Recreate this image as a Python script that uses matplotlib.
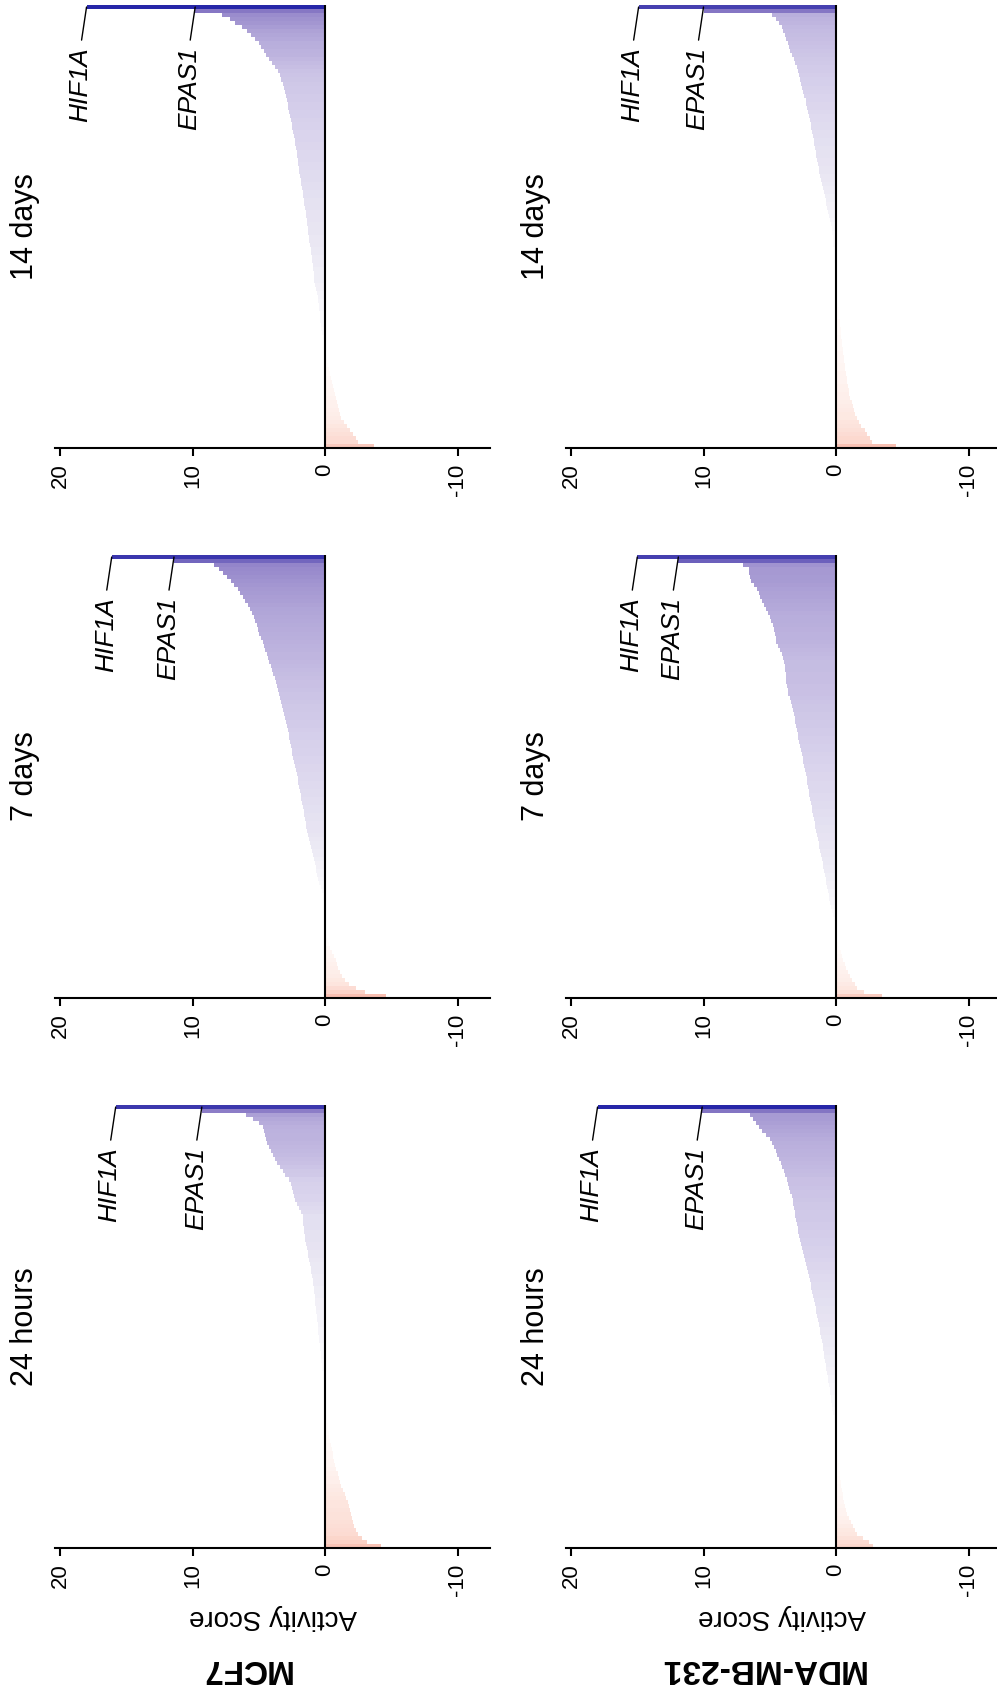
import numpy as np
import matplotlib
matplotlib.use("Agg")
import matplotlib.pyplot as plt
from matplotlib.colors import LinearSegmentedColormap, Normalize

plt.rcParams['font.family'] = ['Liberation Sans', 'DejaVu Sans']

## data : activity scores sorted (top bar = highest), first two bars are HIF1A and EPAS1
cell_lines = ['MCF7', 'MDA-MB-231']
timepoints = ['24 hours', '7 days', '14 days']
marked_genes = ['HIF1A', 'EPAS1']

mcf7_24h = [15.8, 9.3, 6.0, 5.4, 5.0, 4.7, 4.6, 4.5, 4.45, 4.4,
            4.25, 4.1, 3.95, 3.8, 3.6, 3.4, 3.2, 3.0, 2.75, 2.6,
            2.5, 2.45, 2.35, 2.3, 2.15, 2.0, 1.85, 1.7, 1.67, 1.63,
            1.6, 1.55, 1.52, 1.5, 1.45, 1.38, 1.3, 1.25, 1.18, 1.12,
            1.08, 1.03, 0.98, 0.94, 0.9, 0.86, 0.82, 0.78, 0.75, 0.72,
            0.68, 0.65, 0.62, 0.59, 0.55, 0.52, 0.5, 0.46, 0.43, 0.4,
            0.37, 0.34, 0.31, 0.28, 0.25, 0.22, 0.18, 0.14, 0.1, 0.08,
            0.05, 0.03, 0.01, -0.01, -0.03, -0.06, -0.09, -0.12, -0.16, -0.2,
            -0.24, -0.27, -0.32, -0.38, -0.44, -0.5, -0.57, -0.6, -0.66, -0.75,
            -0.85, -0.95, -1.03, -1.1, -1.22, -1.35, -1.48, -1.6, -1.7, -1.78,
            -1.86, -1.94, -2.02, -2.1, -2.22, -2.35, -2.5, -2.8, -3.2, -4.2]

mcf7_7d = [16.1, 11.4, 8.4, 8.0, 7.7, 7.4, 7.1, 6.85, 6.6, 6.4,
           6.2, 6.05, 5.85, 5.65, 5.5, 5.35, 5.25, 5.15, 5.05, 4.95,
           4.8, 4.7, 4.6, 4.5, 4.4, 4.3, 4.2, 4.1, 4.0, 3.9,
           3.8, 3.7, 3.6, 3.52, 3.45, 3.37, 3.3, 3.23, 3.16, 3.1,
           3.03, 2.96, 2.89, 2.82, 2.75, 2.7, 2.64, 2.58, 2.52, 2.46,
           2.4, 2.34, 2.28, 2.2, 2.13, 2.07, 2.01, 1.96, 1.91, 1.85,
           1.8, 1.75, 1.68, 1.62, 1.56, 1.51, 1.46, 1.42, 1.36, 1.28,
           1.2, 1.12, 1.04, 0.97, 0.9, 0.82, 0.76, 0.7, 0.65, 0.6,
           0.52, 0.42, 0.32, 0.24, 0.18, 0.15, 0.11, 0.08, 0.05, 0.03,
           0.01, -0.01, -0.04, -0.08, -0.14, -0.2, -0.28, -0.4, -0.55, -0.7,
           -0.8, -0.92, -1.0, -1.15, -1.3, -1.5, -1.8, -2.3, -3.0, -4.6]

mcf7_14d = [18.0, 9.8, 7.8, 7.2, 6.8, 6.3, 5.9, 5.55, 5.25, 4.95,
            4.8, 4.6, 4.45, 4.25, 4.0, 3.75, 3.55, 3.42, 3.3, 3.2,
            3.1, 3.02, 2.95, 2.89, 2.83, 2.77, 2.71, 2.65, 2.59, 2.53,
            2.46, 2.4, 2.35, 2.3, 2.25, 2.2, 2.15, 2.11, 2.07, 2.02,
            1.98, 1.93, 1.88, 1.83, 1.78, 1.73, 1.68, 1.63, 1.59, 1.55,
            1.51, 1.47, 1.43, 1.39, 1.35, 1.31, 1.28, 1.23, 1.18, 1.13,
            1.08, 1.04, 1.0, 0.96, 0.92, 0.89, 0.87, 0.85, 0.8, 0.73,
            0.66, 0.6, 0.56, 0.52, 0.48, 0.44, 0.41, 0.38, 0.36, 0.34,
            0.28, 0.22, 0.16, 0.1, 0.04, -0.01, -0.06, -0.12, -0.18, -0.26,
            -0.33, -0.39, -0.45, -0.52, -0.6, -0.66, -0.72, -0.8, -0.88, -0.96,
            -1.05, -1.13, -1.22, -1.4, -1.65, -1.9, -2.1, -2.3, -2.5, -3.7]

mda_24h = [18.0, 10.1, 6.5, 6.3, 6.05, 5.8, 5.55, 5.3, 5.0, 4.85,
           4.7, 4.55, 4.42, 4.3, 4.18, 4.07, 3.95, 3.83, 3.7, 3.62,
           3.54, 3.46, 3.36, 3.28, 3.22, 3.16, 3.11, 3.06, 3.0, 2.95,
           2.9, 2.85, 2.8, 2.75, 2.68, 2.6, 2.52, 2.44, 2.36, 2.28,
           2.2, 2.12, 2.04, 1.98, 1.92, 1.86, 1.8, 1.74, 1.68, 1.6,
           1.54, 1.48, 1.42, 1.36, 1.3, 1.24, 1.18, 1.12, 1.07, 1.02,
           0.98, 0.93, 0.88, 0.83, 0.78, 0.73, 0.68, 0.63, 0.58, 0.53,
           0.49, 0.45, 0.41, 0.37, 0.32, 0.27, 0.22, 0.17, 0.13, 0.09,
           0.06, 0.04, 0.01, -0.02, -0.05, -0.08, -0.11, -0.14, -0.17, -0.2,
           -0.24, -0.28, -0.32, -0.36, -0.41, -0.46, -0.5, -0.55, -0.62, -0.7,
           -0.78, -0.86, -0.96, -1.1, -1.28, -1.46, -1.6, -2.0, -2.5, -2.8]

mda_7d = [15.0, 11.9, 7.0, 6.6, 6.55, 6.5, 6.45, 6.2, 6.0, 5.85,
          5.7, 5.55, 5.4, 5.25, 5.1, 4.98, 4.88, 4.78, 4.7, 4.62,
          4.55, 4.5, 4.4, 4.25, 4.1, 3.98, 3.9, 3.85, 3.83, 3.81,
          3.79, 3.75, 3.7, 3.65, 3.6, 3.5, 3.4, 3.32, 3.25, 3.18,
          3.12, 3.06, 3.0, 2.95, 2.9, 2.85, 2.78, 2.72, 2.65, 2.59,
          2.52, 2.46, 2.4, 2.34, 2.28, 2.22, 2.17, 2.12, 2.07, 2.02,
          1.96, 1.9, 1.84, 1.78, 1.72, 1.67, 1.62, 1.56, 1.5, 1.44,
          1.38, 1.32, 1.26, 1.2, 1.14, 1.08, 1.02, 0.96, 0.9, 0.84,
          0.78, 0.72, 0.66, 0.6, 0.55, 0.5, 0.44, 0.38, 0.3, 0.22,
          0.15, 0.1, 0.05, 0.01, -0.04, -0.1, -0.18, -0.26, -0.35, -0.45,
          -0.55, -0.65, -0.78, -0.9, -1.05, -1.2, -1.4, -1.6, -2.1, -3.5]

mda_14d = [14.9, 10.0, 4.8, 4.5, 4.3, 4.1, 3.98, 3.85, 3.75, 3.65,
           3.55, 3.45, 3.32, 3.2, 3.08, 2.98, 2.9, 2.82, 2.73, 2.65,
           2.57, 2.48, 2.38, 2.3, 2.24, 2.18, 2.12, 2.05, 1.98, 1.92,
           1.86, 1.8, 1.74, 1.69, 1.64, 1.59, 1.54, 1.49, 1.44, 1.38,
           1.32, 1.26, 1.2, 1.13, 1.06, 0.99, 0.92, 0.85, 0.78, 0.72,
           0.66, 0.6, 0.54, 0.47, 0.4, 0.34, 0.29, 0.26, 0.23, 0.2,
           0.18, 0.16, 0.14, 0.12, 0.1, 0.09, 0.08, 0.07, 0.06, 0.05,
           0.03, 0.01, -0.03, -0.08, -0.15, -0.2, -0.23, -0.26, -0.29, -0.32,
           -0.35, -0.38, -0.41, -0.44, -0.47, -0.5, -0.54, -0.58, -0.62, -0.66,
           -0.71, -0.76, -0.81, -0.86, -0.91, -0.96, -1.0, -1.08, -1.18, -1.28,
           -1.38, -1.46, -1.55, -1.7, -1.9, -2.15, -2.35, -2.55, -2.7, -4.5]

scores = {('MCF7', '24 hours'): mcf7_24h, ('MCF7', '7 days'): mcf7_7d, ('MCF7', '14 days'): mcf7_14d,
          ('MDA-MB-231', '24 hours'): mda_24h, ('MDA-MB-231', '7 days'): mda_7d, ('MDA-MB-231', '14 days'): mda_14d}

## colour scale : red (neg) -> white (0) -> lavender/purple -> blue (high)
vmin, vmax = -12, 18
stops = [(-12, '#e65a46'), (-5, '#f7b9aa'), (-3, '#fbd3c8'), (-1.5, '#fde9e3'), (0, '#ffffff'),
         (1, '#eceaf4'), (2.5, '#d8d2ec'), (4.5, '#bdb3de'), (7, '#a194d0'),
         (10, '#8576c4'), (14, '#5048b2'), (18, '#2626a8')]
cmap = LinearSegmentedColormap.from_list('act', [((v - vmin) / (vmax - vmin), c) for v, c in stops])
norm = Normalize(vmin, vmax)

## layout in pixels (figure 997 x 1694)
W, H = 997, 1694
fig = plt.figure(figsize=(W / 100, H / 100), dpi=100)

col_left = {'MCF7': 55, 'MDA-MB-231': 566}
col_right = {'MCF7': 490, 'MDA-MB-231': 997}
col_xmin = {'MCF7': -12.45, 'MDA-MB-231': -12.15}
row_top = {'14 days': 5, '7 days': 555, '24 hours': 1105}
panel_h = 443
title_x = {'MCF7': 25, 'MDA-MB-231': 536}
row_label_x = {'MCF7': 245, 'MDA-MB-231': 762}

for cl in cell_lines:
    for tp in timepoints:
        vals = np.array(scores[(cl, tp)])
        n = len(vals)
        left, right, top = col_left[cl], col_right[cl], row_top[tp]
        ax = fig.add_axes([left / W, 1 - (top + panel_h) / H, (right - left) / W, panel_h / H])
        ax.barh(np.arange(n), vals, height=1.0, color=cmap(norm(vals)), linewidth=0)
        ax.axvline(0, color='black', lw=1.5)
        ax.set_xlim(20.38, col_xmin[cl])
        ax.set_ylim(n - 0.5, -0.5)
        for s in ['top', 'left', 'right']:
            ax.spines[s].set_visible(False)
        ax.spines['bottom'].set_linewidth(1.5)
        ax.set_yticks([])
        ax.set_xticks([20, 10, 0, -10])
        ax.set_xticklabels(['20', '10', '0', '-10'])
        ax.tick_params(axis='x', labelrotation=90, length=6, width=1.5, pad=5, labelsize=16)
        ax.patch.set_alpha(0)

        # HIF1A / EPAS1 labels
        for k, g in enumerate(marked_genes):
            ax.annotate(g, xy=(vals[k], 0), xytext=(-6, -40), textcoords='offset pixels',
                        rotation=90, ha='center', va='top', fontsize=19, style='italic',
                        arrowprops=dict(arrowstyle='-', lw=1, color='black', relpos=(0.5, 1.0),
                                        shrinkA=3, shrinkB=0))

        yc = top + panel_h / 2
        fig.text(title_x[cl] / W, 1 - yc / H, tp, rotation=90, ha='center', va='center', fontsize=22)
        if tp == '24 hours':
            fig.text((left + right) / 2 / W, 1 - 1617 / H, 'Activity Score', rotation=180,
                     ha='center', va='center', fontsize=20)

for cl in cell_lines:
    fig.text(row_label_x[cl] / W, 1 - 1668 / H, cl, rotation=180, ha='center', va='center',
             fontsize=24, fontweight='bold')

plt.savefig('out.png', dpi=100)
